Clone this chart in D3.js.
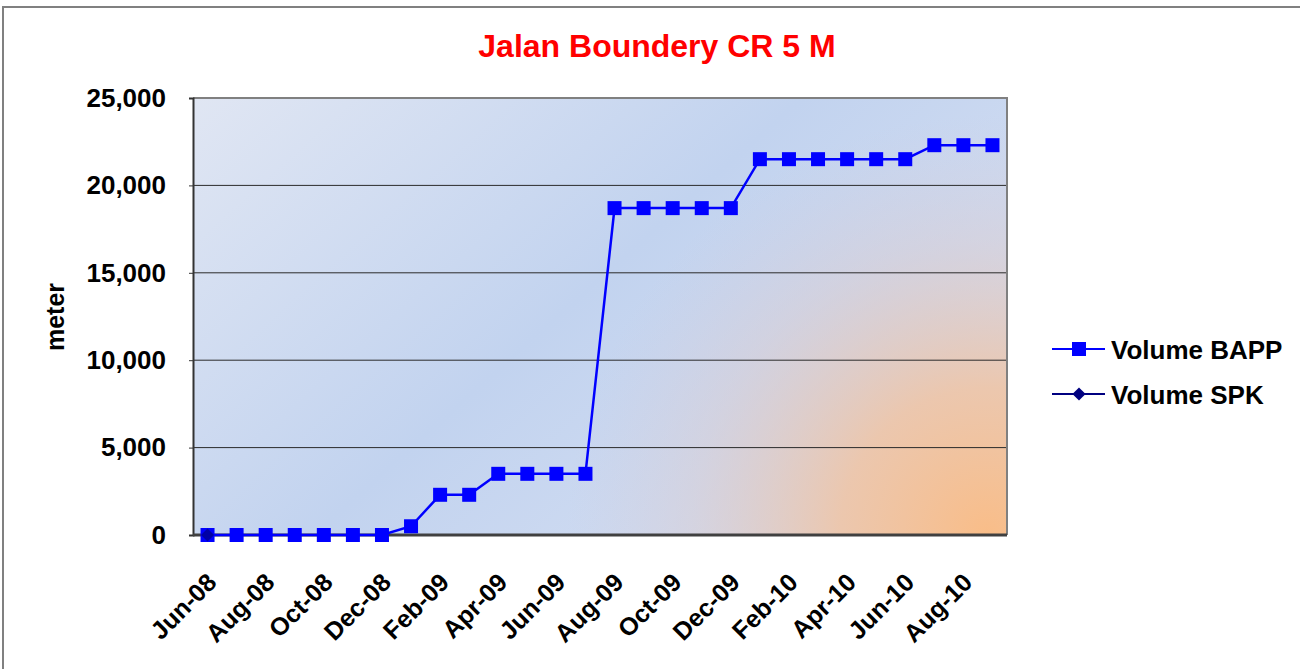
<!DOCTYPE html>
<html>
<head>
<meta charset="utf-8">
<script src="https://cdn.jsdelivr.net/npm/d3@7"></script>
<style>
  body { margin: 0; background: #fff; }
  text { font-family: "Liberation Sans", Arial, sans-serif; font-weight: bold; }
</style>
</head>
<body>
<div id="chart"></div>
<script>
// months on the category axis
var months = ["Jun-08","Jul-08","Aug-08","Sep-08","Oct-08","Nov-08","Dec-08",
  "Jan-09","Feb-09","Mar-09","Apr-09","May-09","Jun-09","Jul-09","Aug-09","Sep-09",
  "Oct-09","Nov-09","Dec-09","Jan-10","Feb-10","Mar-10","Apr-10","May-10","Jun-10",
  "Jul-10","Aug-10","Sep-10"];

// Volume BAPP (meter)
var bapp = [0,0,0,0,0,0,0,
  500,2300,2300,3500,3500,3500,3500,
  18700,18700,18700,18700,18700,
  21500,21500,21500,21500,21500,21500,
  22300,22300,22300];

// Volume SPK (meter), only first month reported
var spk = [0];

var yTicks = [0,5000,10000,15000,20000,25000];

var width = 1300, height = 669;
var plotL = 193, plotR = 1007, plotT = 98, plotB = 535;

var svg = d3.select("#chart").append("svg")
  .attr("width", width)
  .attr("height", height);

var defs = svg.append("defs");
var lin = defs.append("linearGradient").attr("id", "bg")
  .attr("x1", "0%").attr("y1", "0%").attr("x2", "100%").attr("y2", "60%");
lin.append("stop").attr("offset", "0%").attr("stop-color", "#e0e6f3");
lin.append("stop").attr("offset", "55%").attr("stop-color", "#c2d3ef");
lin.append("stop").attr("offset", "100%").attr("stop-color", "#d4def2");

var rad = defs.append("radialGradient").attr("id", "glow")
  .attr("gradientUnits", "userSpaceOnUse")
  .attr("cx", plotR - 20).attr("cy", plotB).attr("r", 420);
rad.append("stop").attr("offset", "0%").attr("stop-color", "#f9bd88").attr("stop-opacity", 1);
rad.append("stop").attr("offset", "35%").attr("stop-color", "#f0c3a2").attr("stop-opacity", 0.85);
rad.append("stop").attr("offset", "70%").attr("stop-color", "#dcc8c8").attr("stop-opacity", 0.4);
rad.append("stop").attr("offset", "100%").attr("stop-color", "#d0c8d8").attr("stop-opacity", 0);

// outer chart border
svg.append("rect")
  .attr("x", 3).attr("y", 7)
  .attr("width", 1310).attr("height", 680)
  .attr("fill", "none").attr("stroke", "#808080").attr("stroke-width", 2);

svg.append("text")
  .attr("x", 657).attr("y", 57)
  .attr("text-anchor", "middle")
  .attr("font-size", "32px")
  .attr("fill", "#ff0000")
  .text("Jalan Boundery CR 5 M");

var x = d3.scalePoint().domain(months).range([plotL, plotR]).padding(0.5);
var y = d3.scaleLinear().domain([0, 25000]).range([plotB, plotT]);

// plot area
svg.append("rect")
  .attr("x", plotL).attr("y", plotT)
  .attr("width", plotR - plotL).attr("height", plotB - plotT)
  .attr("fill", "url(#bg)");
svg.append("rect")
  .attr("x", plotL).attr("y", plotT)
  .attr("width", plotR - plotL).attr("height", plotB - plotT)
  .attr("fill", "url(#glow)");

// gridlines
svg.append("g").selectAll("line")
  .data(yTicks.filter(function(d){ return d > 0 && d < 25000; }))
  .enter().append("line")
  .attr("x1", plotL).attr("x2", plotR)
  .attr("y1", function(d){ return y(d); })
  .attr("y2", function(d){ return y(d); })
  .attr("stroke", "#2b2b2b").attr("stroke-width", 1);

// top / right border of plot
svg.append("path")
  .attr("d", "M" + plotL + "," + plotT + "H" + plotR + "V" + plotB)
  .attr("fill", "none").attr("stroke", "#808080").attr("stroke-width", 2);

// y axis
var yAxis = d3.axisLeft(y).tickValues(yTicks).tickSize(4).tickFormat(d3.format(","));
var gy = svg.append("g").attr("transform", "translate(" + plotL + ",0)").call(yAxis);
gy.select(".domain").attr("stroke", "#333").attr("stroke-width", 2);
gy.selectAll(".tick line").attr("stroke", "#333");
gy.selectAll(".tick text")
  .attr("x", -27)
  .attr("font-size", "26px")
  .attr("fill", "#000");

// x axis
var xAxis = d3.axisBottom(x).tickSize(0)
  .tickFormat(function(d, i){ return i % 2 === 0 ? d : ""; });
var gx = svg.append("g").attr("transform", "translate(0," + plotB + ")").call(xAxis);
gx.select(".domain").attr("d", "M" + plotL + ",0H" + plotR)
  .attr("stroke", "#404040").attr("stroke-width", 3);
gx.selectAll(".tick text")
  .attr("font-size", "25px")
  .attr("fill", "#000")
  .attr("text-anchor", "end")
  .attr("dy", 0)
  .attr("y", 0)
  .attr("transform", "translate(10,49) rotate(-45)");

svg.append("text")
  .attr("transform", "translate(64,317) rotate(-90)")
  .attr("text-anchor", "middle")
  .attr("font-size", "25px")
  .attr("fill", "#000")
  .text("meter");

// BAPP series
var line = d3.line()
  .x(function(d, i){ return x(months[i]); })
  .y(function(d){ return y(d); });

svg.append("path")
  .datum(bapp)
  .attr("d", line)
  .attr("fill", "none").attr("stroke", "#0000ff").attr("stroke-width", 2.5);

svg.append("g").selectAll("rect")
  .data(bapp)
  .enter().append("rect")
  .attr("x", function(d, i){ return x(months[i]) - 7; })
  .attr("y", function(d){ return y(d) - 7; })
  .attr("width", 14).attr("height", 14)
  .attr("fill", "#0000ff");

// SPK series
svg.append("g").selectAll("path")
  .data(spk)
  .enter().append("path")
  .attr("d", d3.symbol().type(d3.symbolDiamond2).size(110))
  .attr("transform", function(d, i){ return "translate(" + x(months[i]) + "," + y(d) + ")"; })
  .attr("fill", "#000080")
  .attr("opacity", 0.7);

// legend
var legend = [
  { name: "Volume BAPP", color: "#0000ff", shape: "square" },
  { name: "Volume SPK", color: "#000080", shape: "diamond" }
];
var lg = svg.append("g").selectAll("g")
  .data(legend)
  .enter().append("g")
  .attr("transform", function(d, i){ return "translate(1052," + (349 + i * 45) + ")"; });
lg.append("line")
  .attr("x1", 0).attr("x2", 53)
  .attr("stroke", function(d){ return d.color; }).attr("stroke-width", 2);
lg.append("path")
  .attr("d", function(d){
    return d3.symbol().type(d.shape === "square" ? d3.symbolSquare : d3.symbolDiamond2)
      .size(d.shape === "square" ? 196 : 110)();
  })
  .attr("transform", "translate(27,0)")
  .attr("fill", function(d){ return d.color; });
lg.append("text")
  .attr("x", 59).attr("y", 10)
  .attr("font-size", "26px")
  .attr("fill", "#000")
  .text(function(d){ return d.name; });
</script>
</body>
</html>
